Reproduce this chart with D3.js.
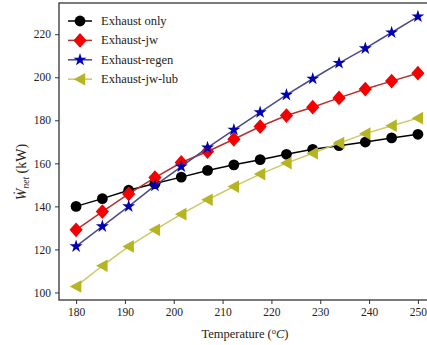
<!DOCTYPE html>
<html><head><meta charset="utf-8">
<script src="https://cdn.jsdelivr.net/npm/d3@7"></script>
<style>body{margin:0;background:#fff}svg{display:block}</style>
</head><body><svg id="c" width="427" height="345"></svg>
<script>
const temps = [180,185.38,190.77,196.15,201.54,206.92,212.31,217.69,223.08,228.46,233.85,239.23,244.62,250];
const exhaustOnly = [140,143.6,147.5,150.6,153.6,156.7,159.3,161.7,164.2,166.5,168.2,169.9,171.8,173.5];
const exhaustJw = [129.1,137.6,145.8,153.4,160.4,165.5,171.2,177.1,182.2,186.1,190.4,194.5,198.2,201.9];
const exhaustRegen = [121.4,130.7,140,149.6,158.5,167.3,175.6,183.7,191.8,199.3,206.6,213.4,220.8,228.2];
const exhaustJwLub = [102.8,112.4,121.4,129.1,136.4,143.1,149.2,155,160.1,164.7,169.4,173.8,177.5,181];
const seriesNames = ["Exhaust only","Exhaust-jw","Exhaust-regen","Exhaust-jw-lub"];
const xTicks = [180,190,200,210,220,230,240,250];
const yTicks = [100,120,140,160,180,200,220];

const series = [
  {name:seriesNames[0], values:exhaustOnly, line:"#000000", fill:"#000000", shape:"circle"},
  {name:seriesNames[1], values:exhaustJw, line:"#b83030", fill:"#f50000", shape:"diamond"},
  {name:seriesNames[2], values:exhaustRegen, line:"#4a4a88", fill:"#0000b4", shape:"star"},
  {name:seriesNames[3], values:exhaustJwLub, line:"#c9c966", fill:"#b5b522", shape:"tri"}
];

const svg = d3.select("#c");
const L=59, R=435, T=3, B=300;
const x = d3.scaleLinear().domain([176.5,253.5]).range([L,R]);
const y = d3.scaleLinear().domain([96.5,234.5]).range([B,T]);
const font = "'Liberation Serif','Times New Roman',serif";

svg.append("rect").attr("x",L).attr("y",T).attr("width",R-L).attr("height",B-T)
  .attr("fill","none").attr("stroke","#333").attr("stroke-width",1.3);

const xa = svg.append("g").attr("transform",`translate(0,${B})`)
  .call(d3.axisBottom(x).tickValues(xTicks).tickSize(4).tickPadding(4).tickFormat(d3.format("d")));
const ya = svg.append("g").attr("transform",`translate(${L},0)`)
  .call(d3.axisLeft(y).tickValues(yTicks).tickSize(4).tickPadding(4).tickFormat(d3.format("d")));
[xa,ya].forEach(a=>{
  a.select(".domain").remove();
  a.selectAll("line").attr("stroke","#333");
  a.selectAll("text").attr("font-family",font).attr("font-size",11.5).attr("fill","#222");
});

function marker(g, shape, fill, s){
  if(shape==="circle") g.append("circle").attr("r",5.4*s).attr("fill",fill);
  else if(shape==="diamond") g.append("path").attr("d",`M0,${-7.4*s}L${6.6*s},0L0,${7.4*s}L${-6.6*s},0Z`).attr("fill",fill);
  else if(shape==="star") g.append("path").attr("d",d3.symbol().type(d3.symbolStar).size(52*s*s)()).attr("fill",fill);
  else if(shape==="tri") g.append("path").attr("d",`M${-6.3*s},0L${5.2*s},${-6.3*s}L${5.2*s},${6.3*s}Z`).attr("fill",fill);
}

const line = d3.line().x((d,i)=>x(temps[i])).y(d=>y(d));
series.forEach(s=>{
  svg.append("path").datum(s.values).attr("d",line).attr("fill","none")
    .attr("stroke",s.line).attr("stroke-width",1.5);
  s.values.forEach((v,i)=>{
    const g = svg.append("g").attr("transform",`translate(${x(temps[i])},${y(v)})`);
    marker(g,s.shape,s.fill,1);
  });
});

series.forEach((s,i)=>{
  const ly = 21 + i*19.4;
  svg.append("line").attr("x1",68).attr("x2",92).attr("y1",ly).attr("y2",ly)
    .attr("stroke",s.line).attr("stroke-width",1.5);
  const g = svg.append("g").attr("transform",`translate(80,${ly})`);
  marker(g,s.shape,s.fill,1);
  svg.append("text").attr("x",101).attr("y",ly+4).text(s.name)
    .attr("font-family",font).attr("font-size",12.5).attr("fill","#222");
});

const xt = svg.append("text").attr("x",245).attr("y",338).attr("text-anchor","middle")
  .attr("font-family",font).attr("font-size",12.5).attr("fill","#222");
xt.append("tspan").text("Temperature (");
xt.append("tspan").attr("dy",-4).attr("font-size",8.5).text("o");
xt.append("tspan").attr("dy",4).attr("font-style","italic").text("C");
xt.append("tspan").text(")");

const yt = svg.append("text").attr("transform","translate(26,172) rotate(-90)").attr("text-anchor","middle")
  .attr("font-family",font).attr("font-size",14).attr("fill","#222");
yt.append("tspan").attr("font-style","italic").text("W\u0307");
yt.append("tspan").attr("font-style","italic").attr("font-size",9.5).attr("dy",3).text("net");
yt.append("tspan").attr("dy",-3).text(" (kW)");
</script></body></html>
